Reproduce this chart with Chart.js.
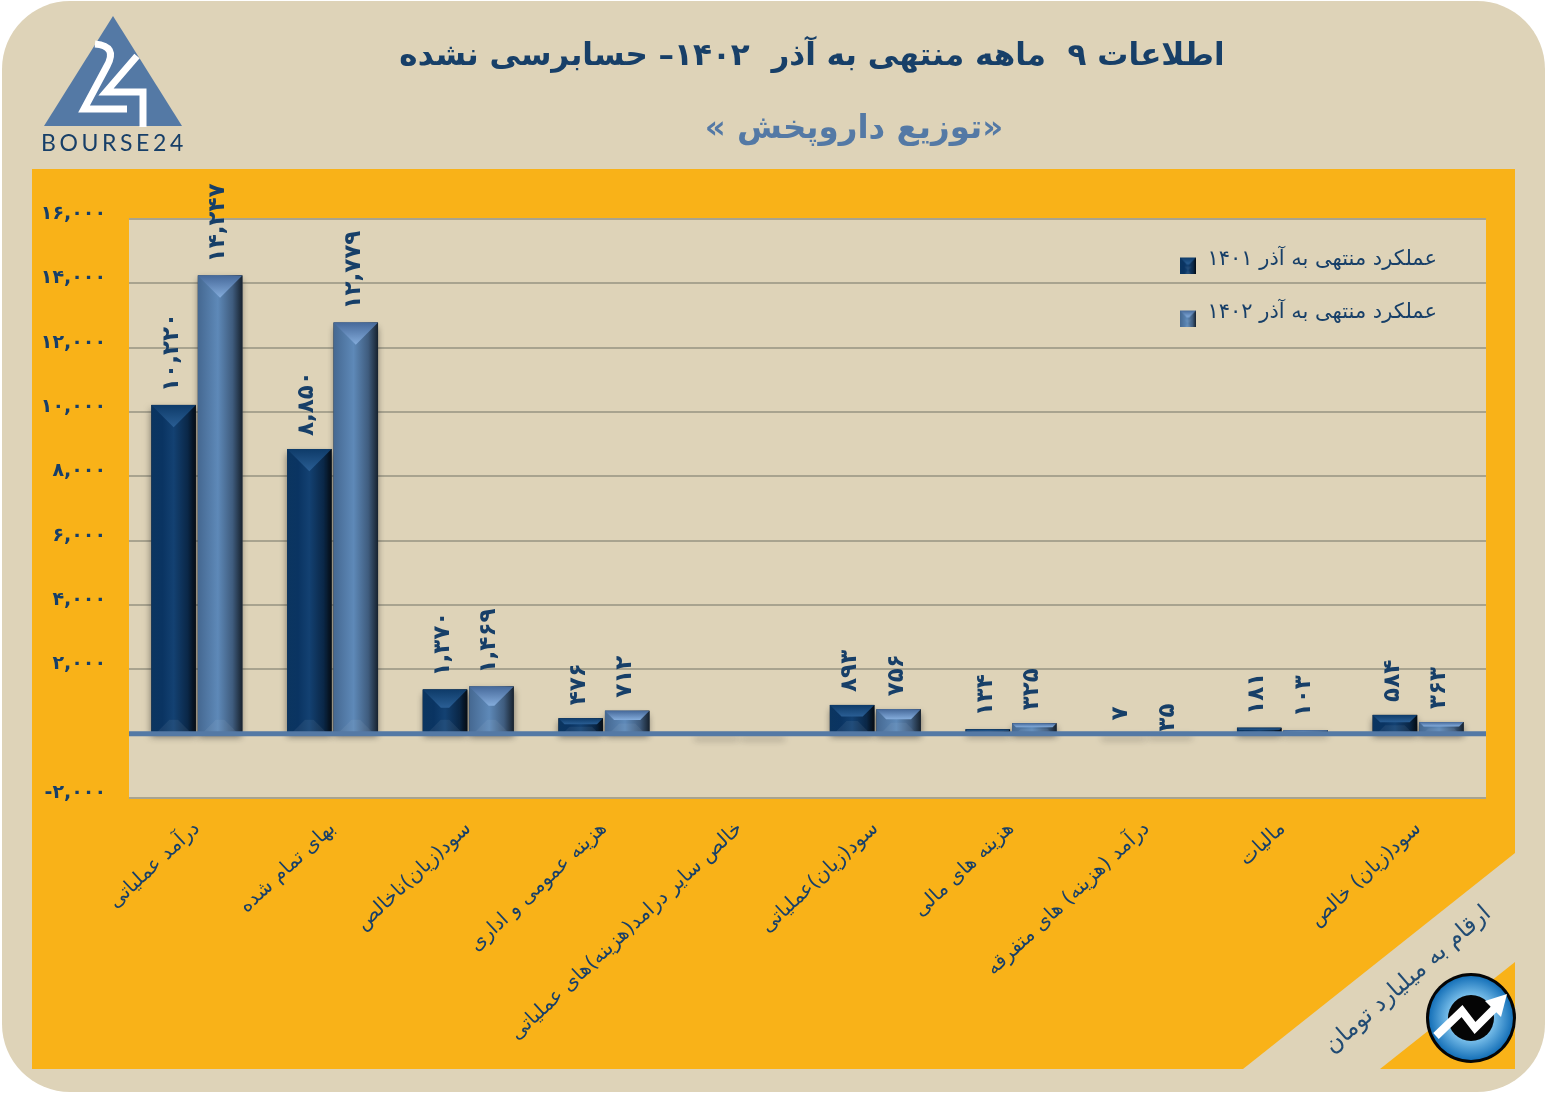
<!DOCTYPE html>
<html lang="fa">
<head>
<meta charset="utf-8">
<title>توزیع داروپخش</title>
<script src="https://cdn.jsdelivr.net/npm/chart.js@4"></script>
<style>
    html, body { margin: 0; padding: 0; background: #fff; }
    canvas { display: block; }
</style>
</head>
<body>
<canvas id="myChart" width="1547" height="1094" dir="rtl"></canvas>
<script>
const categories = [
    'درآمد عملیاتی',
    'بهای تمام شده',
    'سود(زیان)ناخالص',
    'هزینه عمومی و اداری',
    'خالص سایر درامد(هزینه)های عملیاتی',
    'سود(زیان)عملیاتی',
    'هزینه های مالی',
    'درآمد (هزینه) های متفرقه',
    'مالیات',
    'سود(زیان) خالص'
];
const seriesNames = ['عملکرد منتهی به آذر ۱۴۰۱', 'عملکرد منتهی به آذر ۱۴۰۲'];
const values1401 = [10220, 8850, 1370, 476, 0, 893, 134, 7, 181, 584];
const values1402 = [14247, 12779, 1469, 712, 0, 756, 325, 35, 103, 363];
const titleText = 'اطلاعات ۹  ماهه منتهی به آذر  ۱۴۰۲– حسابرسی نشده';
const subtitleText = '«توزیع داروپخش »';
const unitText = 'ارقام به میلیارد تومان';

const BEIGE = '#DED3B8';
const ORANGE = '#F9B218';
const NAVY = '#173F68';
const STEEL = '#5479A5';
const GRID = '#A8A38F';
const FA_FONT = '"DejaVu Sans"';

const palettes = [
    {
        side: [[0, '#0B3560'], [0.25, '#0A3462'], [0.5, '#134172'], [0.82, '#0A2747'], [1, '#020A12']],
        capTop: '#0E3B69', capPeak: '#2A5E94'
    },
    {
        side: [[0, '#456891'], [0.45, '#5E89B8'], [0.78, '#3F5C7E'], [1, '#17222E']],
        capTop: '#46699A', capPeak: '#84ACDB'
    }
];

const toFa = (value) => {
    const text = Math.abs(value).toString().replace(/\B(?=(\d{3})+$)/g, ',');
    const digits = text.replace(/\d/g, (d) => '۰۱۲۳۴۵۶۷۸۹'[d]);
    // LRM keeps the minus on the left of the number on an rtl canvas
    return value < 0 ? '\u200E-' + digits : digits;
};

const paintBar = (ctx, x, top, w, h, palette) => {
    const side = ctx.createLinearGradient(x, 0, x + w, 0);
    palette.side.forEach((s) => side.addColorStop(s[0], s[1]));
    ctx.fillStyle = side;
    ctx.fillRect(x, top, w, h);

    const d = Math.min(w / 2, h * 0.42);
    const cap = ctx.createLinearGradient(0, top, 0, top + d);
    cap.addColorStop(0, palette.capTop);
    cap.addColorStop(1, palette.capPeak);
    ctx.fillStyle = cap;
    ctx.beginPath();
    ctx.moveTo(x, top);
    ctx.lineTo(x + w, top);
    ctx.lineTo(x + w - d, top + d);
    ctx.lineTo(x + d, top + d);
    ctx.closePath();
    ctx.fill();

    const b = Math.min(13, h * 0.42);
    ctx.fillStyle = 'rgba(200,215,235,0.08)';
    ctx.beginPath();
    ctx.moveTo(x + 5, top + h);
    ctx.lineTo(x + w - 5, top + h);
    ctx.lineTo(x + w - 5 - b, top + h - b);
    ctx.lineTo(x + 5 + b, top + h - b);
    ctx.closePath();
    ctx.fill();
};

// legend marker: box sits low in the sprite so it hangs under the text middle
const legendSprite = (palette) => {
    const c = document.createElement('canvas');
    c.width = 16;
    c.height = 28;
    paintBar(c.getContext('2d'), 0, 12, 16, 16, palette);
    return c;
};

const backdrop = {
    id: 'backdrop',
    beforeDraw(chart) {
        const ctx = chart.ctx;
        const area = chart.chartArea;
        ctx.save();
        ctx.direction = 'rtl';

        ctx.fillStyle = BEIGE;
        ctx.beginPath();
        ctx.roundRect(2, 1, 1543, 1091, 68);
        ctx.fill();

        ctx.fillStyle = ORANGE;
        ctx.fillRect(32, 169, 1483, 900);

        ctx.fillStyle = BEIGE;
        ctx.beginPath();
        ctx.moveTo(1515, 853);
        ctx.lineTo(1515, 962);
        ctx.lineTo(1380, 1069);
        ctx.lineTo(1243, 1069);
        ctx.closePath();
        ctx.fill();

        ctx.fillRect(area.left, area.top, area.width, area.height);

        ctx.textBaseline = 'middle';
        ctx.textAlign = 'center';
        ctx.fillStyle = NAVY;
        ctx.font = 'bold 31px ' + FA_FONT;
        ctx.fillText(titleText, 812, 57);
        ctx.fillStyle = STEEL;
        ctx.font = 'bold 32.5px ' + FA_FONT;
        ctx.fillText(subtitleText, 854, 130);

        ctx.save();
        ctx.translate(1408, 980);
        ctx.rotate(-41 * Math.PI / 180);
        ctx.fillStyle = '#214B73';
        ctx.font = '23.5px ' + FA_FONT;
        ctx.fillText(unitText, 0, 0);
        ctx.restore();

        drawBourseLogo(ctx);
        drawRoundLogo(ctx);
        ctx.restore();
    }
};

const drawBourseLogo = (ctx) => {
    ctx.fillStyle = STEEL;
    ctx.beginPath();
    ctx.moveTo(113, 16);
    ctx.lineTo(182, 126);
    ctx.lineTo(44, 126);
    ctx.closePath();
    ctx.fill();

    ctx.strokeStyle = '#fff';
    ctx.lineWidth = 7;
    ctx.lineJoin = 'miter';
    ctx.beginPath();
    ctx.moveTo(95, 44);
    ctx.quadraticCurveTo(118, 46, 107, 66);
    ctx.lineTo(84, 109);
    ctx.lineTo(127, 109);
    ctx.stroke();
    ctx.beginPath();
    ctx.moveTo(137, 56);
    ctx.lineTo(106, 92);
    ctx.lineTo(143, 92);
    ctx.lineTo(143, 127);
    ctx.stroke();

    ctx.save();
    ctx.direction = 'ltr';
    ctx.textAlign = 'left';
    ctx.textBaseline = 'middle';
    ctx.fillStyle = NAVY;
    ctx.font = '23px Lato';
    ctx.letterSpacing = '3.6px';
    ctx.fillText('BOURSE24', 41, 144);
    ctx.restore();
};

const drawRoundLogo = (ctx) => {
    const cx = 1471, cy = 1018;
    ctx.fillStyle = '#050505';
    ctx.beginPath();
    ctx.arc(cx, cy, 45, 0, Math.PI * 2);
    ctx.fill();

    const glow = ctx.createRadialGradient(cx, cy, 18, cx, cy, 42);
    glow.addColorStop(0, '#8FD0F5');
    glow.addColorStop(1, '#1570B8');
    ctx.fillStyle = glow;
    ctx.beginPath();
    ctx.arc(cx, cy, 42, 0, Math.PI * 2);
    ctx.fill();

    ctx.fillStyle = '#050505';
    ctx.beginPath();
    ctx.arc(cx, cy, 23, 0, Math.PI * 2);
    ctx.fill();

    ctx.strokeStyle = '#fff';
    ctx.lineWidth = 8;
    ctx.lineJoin = 'miter';
    ctx.beginPath();
    ctx.moveTo(1436, 1036);
    ctx.lineTo(1462, 1011);
    ctx.lineTo(1475, 1028);
    ctx.lineTo(1497, 1006);
    ctx.stroke();
    ctx.fillStyle = '#fff';
    ctx.beginPath();
    ctx.moveTo(1507, 994);
    ctx.lineTo(1501, 1017);
    ctx.lineTo(1485, 1001);
    ctx.closePath();
    ctx.fill();
};

const bevelBars = {
    id: 'bevelBars',
    afterDatasetsDraw(chart) {
        const ctx = chart.ctx;
        const yScale = chart.scales.y;
        const zero = yScale.getPixelForValue(0);
        ctx.save();

        chart.data.datasets.forEach((ds, d) => {
            chart.getDatasetMeta(d).data.forEach((bar) => {
                const left = bar.x - bar.width / 2;
                const h = bar.base - bar.y;
                ctx.save();
                ctx.shadowColor = 'rgba(30,30,30,0.55)';
                ctx.shadowBlur = 7;
                ctx.shadowOffsetY = 4;
                ctx.fillStyle = '#333';
                ctx.fillRect(left, bar.y, bar.width, Math.max(h, 2));
                ctx.restore();
                if (h > 0) {
                    paintBar(ctx, left, bar.y, bar.width, h, palettes[d]);
                }
            });
        });

        ctx.strokeStyle = STEEL;
        ctx.lineWidth = 5;
        ctx.beginPath();
        ctx.moveTo(chart.chartArea.left, zero);
        ctx.lineTo(chart.chartArea.right, zero);
        ctx.stroke();

        // value labels stand upright over each bar
        ctx.fillStyle = NAVY;
        ctx.font = 'bold 23px ' + FA_FONT;
        ctx.textAlign = 'left';
        ctx.textBaseline = 'middle';
        chart.data.datasets.forEach((ds, d) => {
            chart.getDatasetMeta(d).data.forEach((bar, i) => {
                if (!ds.data[i]) return;
                const gap = (d === 1 && i === 7) ? 1 : 13;
                ctx.save();
                ctx.translate(bar.x - 2, bar.y - gap);
                ctx.rotate(-Math.PI / 2);
                ctx.fillText(toFa(ds.data[i]), 0, 0);
                ctx.restore();
            });
        });
        ctx.restore();
    }
};

const placeLegend = {
    id: 'placeLegend',
    afterLayout(chart) {
        const legend = chart.legend;
        legend.left = 1147;
        legend.right = 1147 + legend.width;
        legend.top = 217;
        legend.bottom = 217 + legend.height;
    }
};

const ctx = document.getElementById('myChart').getContext('2d');

const data = {
    labels: categories,
    datasets: [
        { label: seriesNames[0], data: values1401, backgroundColor: '#0E3B69' },
        { label: seriesNames[1], data: values1402, backgroundColor: '#5479A5' }
    ]
};

const options = {
    type: 'bar',
    data: data,
    plugins: [backdrop, placeLegend, bevelBars],
    options: {
        responsive: false,
        animation: false,
        categoryPercentage: 0.685,
        barPercentage: 0.957,
        layout: { padding: { top: 219, right: 61, left: 0, bottom: 0 } },
        plugins: {
            tooltip: { enabled: false },
            title: { display: false },
            legend: {
                position: 'chartArea',
                align: 'start',
                labels: {
                    color: NAVY,
                    font: { family: FA_FONT, size: 21 },
                    usePointStyle: true,
                    boxWidth: 18,
                    boxHeight: 18,
                    padding: 32,
                    generateLabels: (chart) => chart.data.datasets.map((ds, i) => ({
                        text: ds.label,
                        fontColor: NAVY,
                        pointStyle: legendSprite(palettes[i]),
                        datasetIndex: i,
                        lineWidth: 0
                    }))
                }
            }
        },
        scales: {
            x: {
                afterFit: (scale) => { scale.height = 296; },
                grid: { display: false },
                border: { display: false },
                ticks: {
                    autoSkip: false,
                    minRotation: 43,
                    maxRotation: 43,
                    padding: 11,
                    color: NAVY,
                    font: { family: FA_FONT, size: 20 }
                }
            },
            y: {
                min: -2000,
                max: 16000,
                afterFit: (scale) => { scale.width = 129; },
                grid: { color: GRID, lineWidth: 2, drawTicks: false },
                border: { display: false },
                ticks: {
                    stepSize: 2000,
                    padding: 23,
                    color: NAVY,
                    font: { family: FA_FONT, size: 19, weight: 'bold', lineHeight: '10px' },
                    // empty second row lifts the number off its grid line; the zero tick has no text
                    callback: (value) => (value === 0 ? '' : [toFa(value), ''])
                }
            }
        }
    }
};

const chart = new Chart(ctx, options);
</script>
</body>
</html>
